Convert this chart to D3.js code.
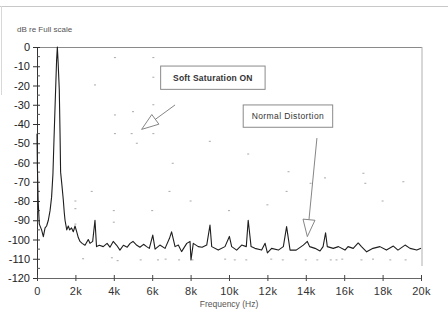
<!DOCTYPE html>
<html>
<head>
<meta charset="utf-8">
<script src="https://cdn.jsdelivr.net/npm/d3@7/dist/d3.min.js"></script>
<style>
  html, body { margin: 0; padding: 0; background: #fff; }
  svg { display: block; font-family: "Liberation Sans", Arial, sans-serif; }
</style>
</head>
<body>
<div id="chart"></div>
<script>
/* Harmonic spectrum, dB re full scale vs frequency (Hz).
   Solid trace = normal distortion, faint marks = soft saturation residue. */

var yTickValues = [0, -10, -20, -30, -40, -50, -60, -70, -80, -90, -100, -110, -120];
var xTickValues = [0, 2000, 4000, 6000, 8000, 10000, 12000, 14000, 16000, 18000, 20000];
var xTickLabels = ['0', '2k', '4k', '6k', '8k', '10k', '12k', '14k', '16k', '18k', '20k'];

/* main trace: [frequency Hz, dB] */
var normalFreq = [
  0, 20, 60, 120, 240, 330, 420, 500, 590, 680, 760, 830, 885, 950, 1020, 1060,
  1100, 1160, 1200, 1230, 1300, 1370, 1420, 1460, 1550, 1630, 1700, 1800, 1890, 1980,
  2070, 2150, 2240, 2350, 2500, 2670, 2760, 2900, 3020, 3100, 3250, 3450, 3650, 3800,
  3970, 4150, 4320, 4500, 4700, 4850, 5000, 5200, 5360, 5550, 5710, 5850, 6030, 6150,
  6400, 6670, 6900, 7010, 7190, 7360, 7530, 7800, 7970, 8020, 8140, 8400, 8600, 8840,
  9010, 9100, 9440, 9790, 10020, 10140, 10400, 10660, 10900, 11000, 11150, 11350, 11700,
  11880, 12000, 12220, 12570, 12830, 13000, 13180, 13500, 13870, 14080, 14200, 14480,
  14740, 14900, 15030, 15120, 15430, 15700, 16040, 16200, 16470, 16730, 16900, 17170,
  17500, 17860, 18200, 18560, 18800, 19170, 19430, 19780, 20000
];
var normalDb = [
  -45, -62, -80, -92, -95, -98.5, -94, -93, -90, -85, -78, -66, -48, -28, -7, 0,
  -8, -22, -45, -65, -72, -79.5, -86, -90, -95, -93, -95, -94, -96, -93,
  -96, -99, -101, -102, -103, -100, -102, -101, -90, -103.7, -103, -103.7, -102, -104,
  -101, -103, -105.5, -103, -104, -102, -101, -103, -104, -102.5, -103.7, -104.6, -97.7, -105,
  -102.9, -104.6, -99.4, -96, -103.7, -102.9, -106.3, -102, -101, -110.6, -102, -103.7, -104, -102.9,
  -92.5, -103.7, -105.5, -103.7, -98.4, -103.7, -105.5, -102.9, -103.7, -90, -103.7, -104.6, -105.5,
  -102, -107, -104.6, -105.5, -103.7, -93.3, -105.5, -105.5, -102.9, -101, -103.7, -104.6,
  -106, -103.7, -96.5, -103.7, -104.6, -103.7, -105.5, -103.7, -104.6, -101.8, -103.7, -106.4,
  -104.6, -103.7, -105.5, -103.4, -105.5, -102.9, -104.6, -105.5, -104.6
];

/* faint scattered residue of the soft saturation trace: [frequency Hz, dB] */
var softFreq = [
  4060, 6060, 3020, 6060, 4060, 5000, 6060, 4060, 4930, 6060, 5200, 9000, 11000, 7070,
  13100, 2850, 6900, 13000, 17000, 15000, 19080, 14250, 17100,
  2000, 2000, 4000, 4000, 6000, 8000, 10000, 12000, 18000, 2000,
  2400, 3900, 4200, 5400, 6300, 6700, 7400, 8100, 9800, 10300, 10900, 12200, 12800,
  14000, 14600, 15300, 15600, 15900, 16900, 17500, 18400, 19200
];
var softDb = [
  -5.5, -5.5, -19.7, -15.7, -35.3, -33.6, -30, -45, -45, -45, -50, -49, -55.6, -60.4,
  -64.8, -75, -75, -75, -65.6, -68, -70, -70.8, -70.8,
  -80, -84, -85, -91, -85, -80, -85, -82, -80, -92,
  -110, -109.5, -111, -110.6, -110.6, -110.2, -110.6, -110.6, -110.2, -110.6, -110.6, -110.2, -110.6,
  -110.6, -110.6, -110.6, -110.6, -110.2, -110.6, -110.2, -110.6, -110.6
];

/* annotation boxes and arrows, in data units [frequency Hz, dB] */
var labelText = ['Soft Saturation ON', 'Normal Distortion'];
var labelBold = [true, false];
var labelBox = [[6440, 11880, -9.9, -22], [10740, 15400, -30.1, -41.7]];
var arrowFrom = [[7190, -30.1], [14580, -47.3]];
var arrowTip = [[5450, -42.8], [14080, -98.5]];

(function () {
  'use strict';
  var W = 448, H = 320;
  var margin = { top: 47, right: 26, bottom: 42, left: 37 };
  var innerW = 421 - margin.left, innerH = 278 - margin.top;

  var svg = d3.select('#chart').append('svg').attr('width', W).attr('height', H);

  /* faint scan frame */
  svg.append('line').attr('x1', 0).attr('x2', W).attr('y1', 6.5).attr('y2', 6.5)
    .style('stroke', '#c8c8c8').style('stroke-width', 1);
  svg.append('line').attr('x1', 1.5).attr('x2', 1.5).attr('y1', 6).attr('y2', 95)
    .style('stroke', '#d8d8d8').style('stroke-width', 1);

  var g = svg.append('g').attr('transform', 'translate(' + margin.left + ',' + margin.top + ')');

  var x = d3.scaleLinear().domain([0, 20000]).range([0, innerW]);
  var y = d3.scaleLinear().domain([-120, 0]).range([innerH, 0]);

  /* plot frame: top and right */
  g.append('line').attr('x1', 0).attr('x2', innerW + 1).attr('y1', 0.5).attr('y2', 0.5)
    .style('stroke', '#8a8a8a').style('stroke-width', 1);
  g.append('line').attr('x1', innerW + 1).attr('x2', innerW + 1).attr('y1', 0).attr('y2', innerH - 12)
    .style('stroke', '#b0b0b0').style('stroke-width', 1);

  /* y axis */
  var yAxis = d3.axisLeft(y).tickValues(yTickValues).tickSize(4).tickPadding(3)
    .tickFormat(function (d) { return d === 0 ? '0' : String(d); });
  var ya = g.append('g').call(yAxis);
  ya.select('.domain').style('stroke', '#333');
  ya.selectAll('.tick line').attr('x2', 3).attr('x1', -4).style('stroke', '#333');
  ya.selectAll('.tick text').style('font-size', '11px').style('fill', '#222');
  /* minor ticks every 5 dB */
  g.append('g').selectAll('line').data(d3.range(-115, 0, 10)).enter().append('line')
    .attr('x1', 0).attr('x2', 3).attr('y1', function (d) { return y(d); }).attr('y2', function (d) { return y(d); })
    .style('stroke', '#555');

  /* x axis */
  var xAxis = d3.axisBottom(x).tickValues(xTickValues).tickSize(3).tickPadding(6)
    .tickFormat(function (d, i) { return xTickLabels[i]; });
  var xa = g.append('g').attr('transform', 'translate(0,' + innerH + ')').call(xAxis);
  xa.select('.domain').style('stroke', '#666');
  xa.selectAll('.tick line').attr('y1', -3).style('stroke', '#444');
  xa.selectAll('.tick text').style('font-size', '11px').style('fill', '#333').style('letter-spacing', '0.3px');

  /* axis titles */
  svg.append('text').attr('x', 17).attr('y', 32)
    .style('font-size', '8px').style('fill', '#555').text('dB re Full scale');
  svg.append('text').attr('x', margin.left + x(10000)).attr('y', 307)
    .attr('text-anchor', 'middle')
    .style('font-size', '8.5px').style('fill', '#555').text('Frequency (Hz)');

  /* faint soft-saturation marks */
  var soft = softFreq.map(function (f, i) { return [f, softDb[i]]; });
  g.append('g').selectAll('line').data(soft).enter().append('line')
    .attr('x1', function (d) { return x(d[0]) - 1; })
    .attr('x2', function (d) { return x(d[0]) + 1; })
    .attr('y1', function (d) { return y(d[1]); })
    .attr('y2', function (d) { return y(d[1]); })
    .style('stroke', '#a8a8a8').style('stroke-width', 1);

  /* main trace */
  var normal = normalFreq.map(function (f, i) { return [f, normalDb[i]]; });
  g.append('path').datum(normal)
    .attr('d', d3.line().x(function (d) { return x(d[0]); }).y(function (d) { return y(d[1]); }))
    .style('fill', 'none').style('stroke', '#1e1e1e').style('stroke-width', 1.1)
    .style('stroke-linejoin', 'round');

  /* annotations */
  labelText.forEach(function (t, i) {
    var b = labelBox[i];
    var bx = x(b[0]), bw = x(b[1]) - x(b[0]);
    var by = y(b[2]), bh = y(b[3]) - y(b[2]);
    g.append('rect').attr('x', bx).attr('y', by).attr('width', bw).attr('height', bh)
      .style('fill', '#fff').style('stroke', '#8a8a8a').style('stroke-width', 1);
    g.append('text').attr('x', bx + bw / 2).attr('y', by + bh / 2 + 3)
      .attr('text-anchor', 'middle')
      .style('font-size', labelBold[i] ? '8.5px' : '8.5px')
      .style('font-weight', labelBold[i] ? 'bold' : 'normal')
      .style('letter-spacing', labelBold[i] ? '0.2px' : '0.4px')
      .style('fill', '#333').text(t);

    /* arrow with open triangular head */
    var x0 = x(arrowFrom[i][0]), y0 = y(arrowFrom[i][1]);
    var x1 = x(arrowTip[i][0]), y1 = y(arrowTip[i][1]);
    var dx = x1 - x0, dy = y1 - y0, len = Math.sqrt(dx * dx + dy * dy);
    var ux = dx / len, uy = dy / len;
    var headL = 17, headW = 6;
    var bxp = x1 - ux * headL, byp = y1 - uy * headL;
    g.append('line').attr('x1', x0).attr('y1', y0).attr('x2', bxp).attr('y2', byp)
      .style('stroke', '#777').style('stroke-width', 0.9);
    g.append('polygon')
      .attr('points', [
        [x1, y1],
        [bxp - uy * headW, byp + ux * headW],
        [bxp + uy * headW, byp - ux * headW]
      ].map(function (p) { return p.join(','); }).join(' '))
      .style('fill', '#fff').style('stroke', '#777').style('stroke-width', 0.9);
  });
})();
</script>
</body>
</html>
